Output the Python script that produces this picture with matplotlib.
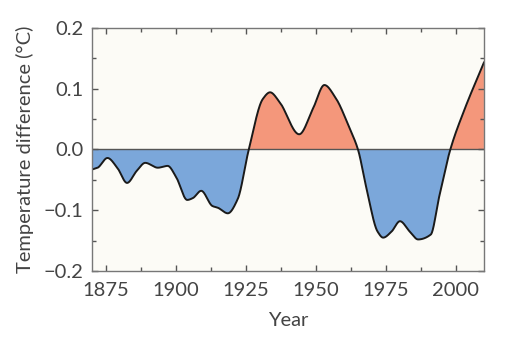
import numpy as np
import matplotlib
matplotlib.use("Agg")
import matplotlib.pyplot as plt
from matplotlib.ticker import MultipleLocator

years = [1870, 1872, 1875.5, 1879, 1882.5, 1886, 1889, 1893.5, 1897, 1900,
         1904, 1906, 1909, 1913, 1915, 1918.5, 1922, 1926, 1931, 1933.6,
         1937, 1944, 1949, 1953, 1957, 1962, 1965, 1968, 1972, 1974,
         1977, 1980, 1983.5, 1986.5, 1991, 1994, 1998, 2003, 2010]
temps = [-0.033, -0.030, -0.014, -0.030, -0.055, -0.035, -0.022, -0.030, -0.027, -0.045,
         -0.083, -0.080, -0.068, -0.093, -0.096, -0.105, -0.082, 0.0, 0.083, 0.094,
         0.078, 0.025, 0.068, 0.106, 0.085, 0.035, 0.0, -0.063, -0.135, -0.145,
         -0.135, -0.118, -0.135, -0.148, -0.140, -0.078, 0.0, 0.065, 0.143]

def pchip(x, y, xn):
    x = np.asarray(x, float); y = np.asarray(y, float)
    h = np.diff(x); d = np.diff(y) / h
    m = np.zeros_like(y)
    for k in range(1, len(x) - 1):
        if d[k-1] * d[k] > 0:
            w1 = 2*h[k] + h[k-1]; w2 = h[k] + 2*h[k-1]
            m[k] = (w1 + w2) / (w1/d[k-1] + w2/d[k])
    m[0] = d[0]; m[-1] = d[-1]
    idx = np.clip(np.searchsorted(x, xn) - 1, 0, len(x) - 2)
    t = (xn - x[idx]) / h[idx]
    h00 = 2*t**3 - 3*t**2 + 1; h10 = t**3 - 2*t**2 + t
    h01 = -2*t**3 + 3*t**2; h11 = t**3 - t**2
    return h00*y[idx] + h10*h[idx]*m[idx] + h01*y[idx+1] + h11*h[idx]*m[idx+1]

xs = np.linspace(years[0], years[-1], 2000)
ys = pchip(years, temps, xs)

plt.rcParams['font.family'] = ['Lato', 'DejaVu Sans']
fig = plt.figure(figsize=(5.26, 3.44), dpi=100)
ax = fig.add_axes([0.175, 0.212, 0.745, 0.707])
ax.set_facecolor('#fcfbf6')
ax.fill_between(xs, ys, 0, where=ys >= 0, interpolate=True, color='#f4977b', lw=0)
ax.fill_between(xs, ys, 0, where=ys <= 0, interpolate=True, color='#7ba7da', lw=0)
ax.axhline(0, color='#555555', lw=1.0)
ax.plot(xs, ys, color='#1a1a1a', lw=1.4)

ax.set_xlim(1870, 2010)
ax.set_ylim(-0.2, 0.2)
ax.xaxis.set_minor_locator(MultipleLocator(12.5))
ax.yaxis.set_minor_locator(MultipleLocator(0.05))
ax.set_xticks([1875, 1900, 1925, 1950, 1975, 2000])
ax.set_yticks([-0.2, -0.1, 0.0, 0.1, 0.2])
ax.set_yticklabels(['\u22120.2', '\u22120.1', '0.0', '0.1', '0.2'])
ax.tick_params(which='both', direction='in', top=True, right=True, color='#555555',
               labelcolor='#444444', labelsize=14.5, width=1.0)
ax.tick_params(which='major', length=4)
ax.tick_params(which='minor', length=3)
ax.tick_params(axis='y', which='both', labelright=False, pad=6)
ax.tick_params(axis='x', pad=8)
for s in ax.spines.values():
    s.set_color('#777777'); s.set_linewidth(1.0)
ax.set_xlabel('Year', fontsize=14.5, color='#444444', labelpad=9)
ax.set_ylabel('Temperature difference (\u00b0C)', fontsize=14.5, color='#444444', labelpad=7)
fig.savefig('out.png', dpi=100, facecolor='white')
